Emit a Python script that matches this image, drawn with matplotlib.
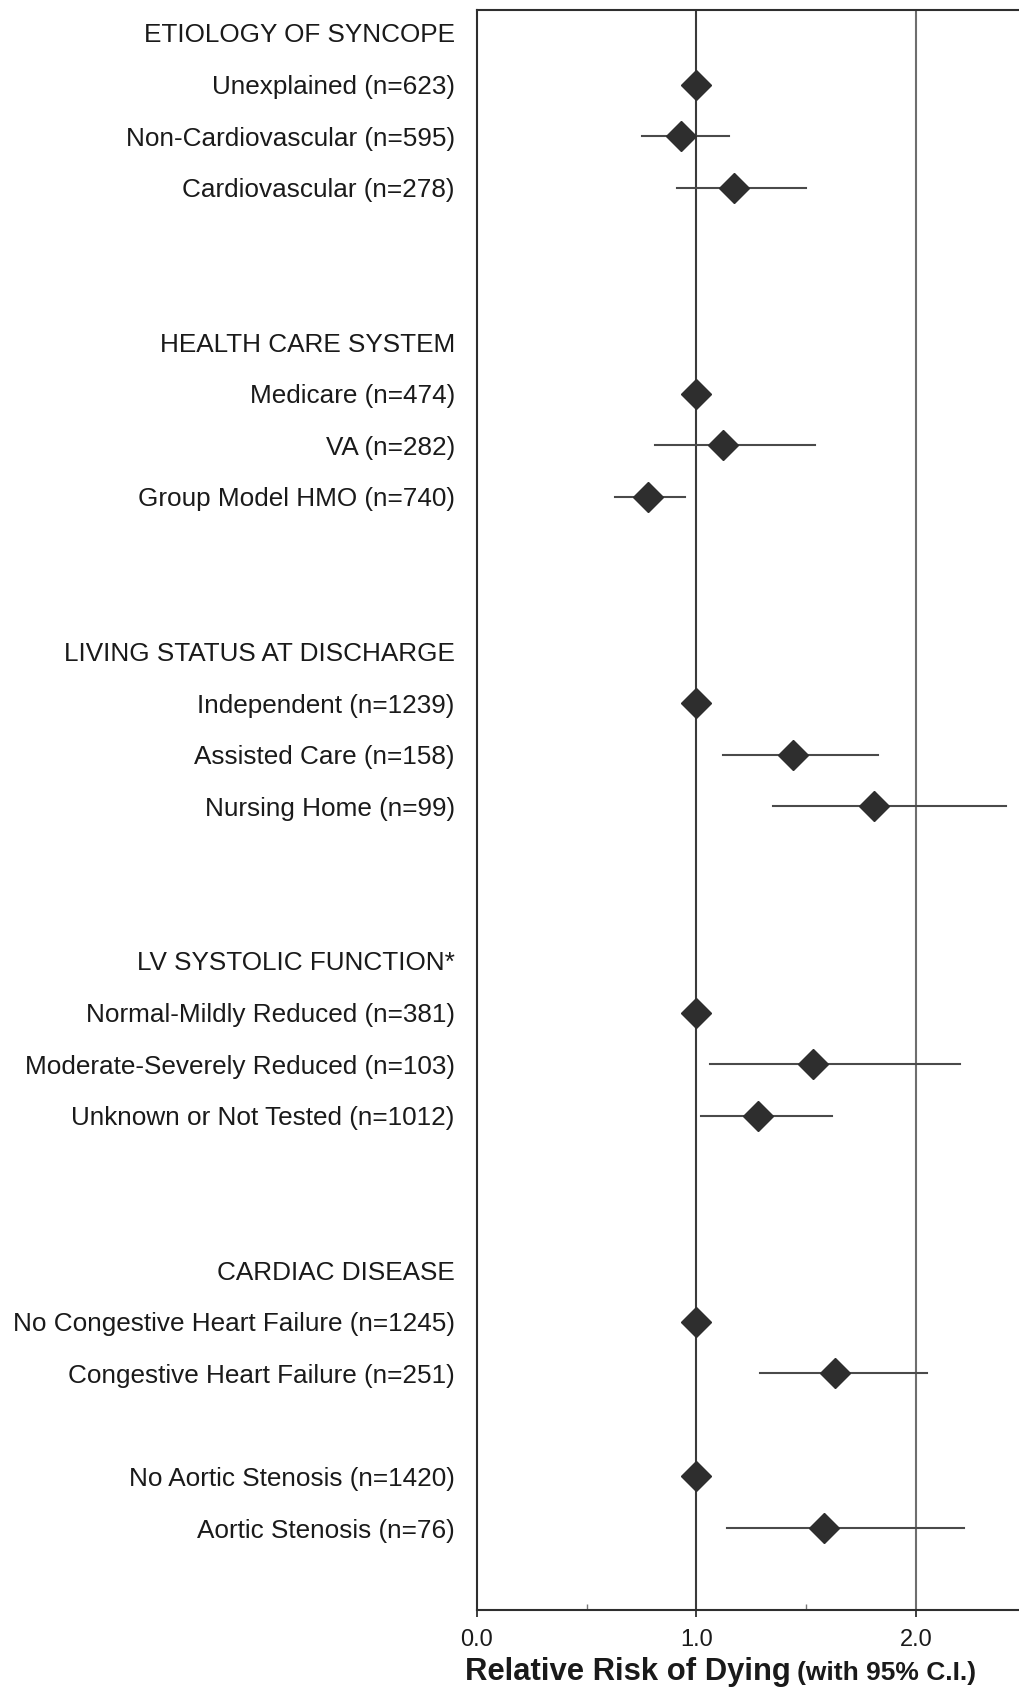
import matplotlib
matplotlib.use("Agg")
import matplotlib.pyplot as plt
import numpy as np

plt.rcParams['font.family'] = ['Liberation Sans', 'DejaVu Sans']

# subgroup headings and how many rows sit under each
group_titles = ["ETIOLOGY OF SYNCOPE", "HEALTH CARE SYSTEM", "LIVING STATUS AT DISCHARGE",
                "LV SYSTOLIC FUNCTION*", "CARDIAC DISEASE", ""]
group_sizes = [3, 3, 3, 3, 2, 2]

labels = [
    "Unexplained (n=623)", "Non-Cardiovascular (n=595)", "Cardiovascular (n=278)",
    "Medicare (n=474)", "VA (n=282)", "Group Model HMO (n=740)",
    "Independent (n=1239)", "Assisted Care (n=158)", "Nursing Home (n=99)",
    "Normal-Mildly Reduced (n=381)", "Moderate-Severely Reduced (n=103)",
    "Unknown or Not Tested (n=1012)",
    "No Congestive Heart Failure (n=1245)", "Congestive Heart Failure (n=251)",
    "No Aortic Stenosis (n=1420)", "Aortic Stenosis (n=76)",
]
# relative risk and 95% confidence limits (reference groups have none)
rr = [1.00, 0.93, 1.17,
      1.00, 1.12, 0.78,
      1.00, 1.44, 1.81,
      1.00, 1.53, 1.28,
      1.00, 1.63,
      1.00, 1.58]
ci_low = [None, 0.75, 0.91,
          None, 0.81, 0.63,
          None, 1.12, 1.35,
          None, 1.06, 1.02,
          None, 1.29,
          None, 1.14]
ci_high = [None, 1.15, 1.50,
           None, 1.54, 0.95,
           None, 1.83, 2.41,
           None, 2.20, 1.62,
           None, 2.05,
           None, 2.22]

xticks = [0, 1, 2]
xtick_labels = ["0.0", "1.0", "2.0"]

# row layout: heading, its rows, then two blank rows
row_pos = []
head_pos = []
pos = 0
for title, n in zip(group_titles, group_sizes):
    if title:
        head_pos.append(pos)
        pos += 1
    else:
        pos -= 1
    row_pos.extend(range(pos, pos + n))
    pos += n + 2

W, H = 1020, 1705
fig = plt.figure(figsize=(W / 100, H / 100), dpi=100)
ax = fig.add_axes([477 / W, 95 / H, 1 - 477 / W + 0.02, 1600 / H])

ink = '#2e2e2e'
ax.axvline(1, color='#3a3a3a', lw=1.5, zorder=1)
ax.axvline(2, color='#6e6e6e', lw=1.5, zorder=1)

for y, r, lo, hi in zip(row_pos, rr, ci_low, ci_high):
    if lo is not None:
        ax.plot([lo, hi], [y, y], color='#4a4a4a', lw=1.5, zorder=2)
    ax.plot(r, y, marker='D', markersize=15, color=ink, zorder=3)

ax.set_xlim(0, (W - 477) / 220 + 0.1)
ax.set_ylim(30.59, -0.446)

ax.set_yticks(head_pos + row_pos)
ax.set_yticklabels([t for t in group_titles if t] + labels)
ax.tick_params(axis='y', length=0, pad=16, labelsize=18.8, labelcolor='#1a1a1a')

ax.set_xticks(xticks)
ax.set_xticklabels(xtick_labels)
ax.set_xticks([0.5, 1.5], minor=True)
ax.tick_params(axis='x', which='major', direction='out', length=5, width=1.3,
               color=ink, pad=8.5, labelsize=17, labelcolor='#1a1a1a')
ax.tick_params(axis='x', which='minor', direction='in', length=4, width=1.0, color='#777777')

for side in ['left', 'top', 'bottom']:
    ax.spines[side].set_linewidth(1.5)
    ax.spines[side].set_color(ink)
ax.spines['right'].set_visible(False)

# axis title: bold main part followed by a smaller bold note
t1 = fig.text(465 / W, 25 / H, "Relative Risk of Dying", fontsize=22.3,
              fontweight='bold', color='#1a1a1a', va='baseline', ha='left')
fig.canvas.draw()
bb = t1.get_window_extent(fig.canvas.get_renderer())
fig.text((bb.x1 + 6) / W, 25 / H, "(with 95% C.I.)", fontsize=19,
         fontweight='bold', color='#1a1a1a', va='baseline', ha='left')

fig.savefig("out.png", dpi=100, facecolor='white')
